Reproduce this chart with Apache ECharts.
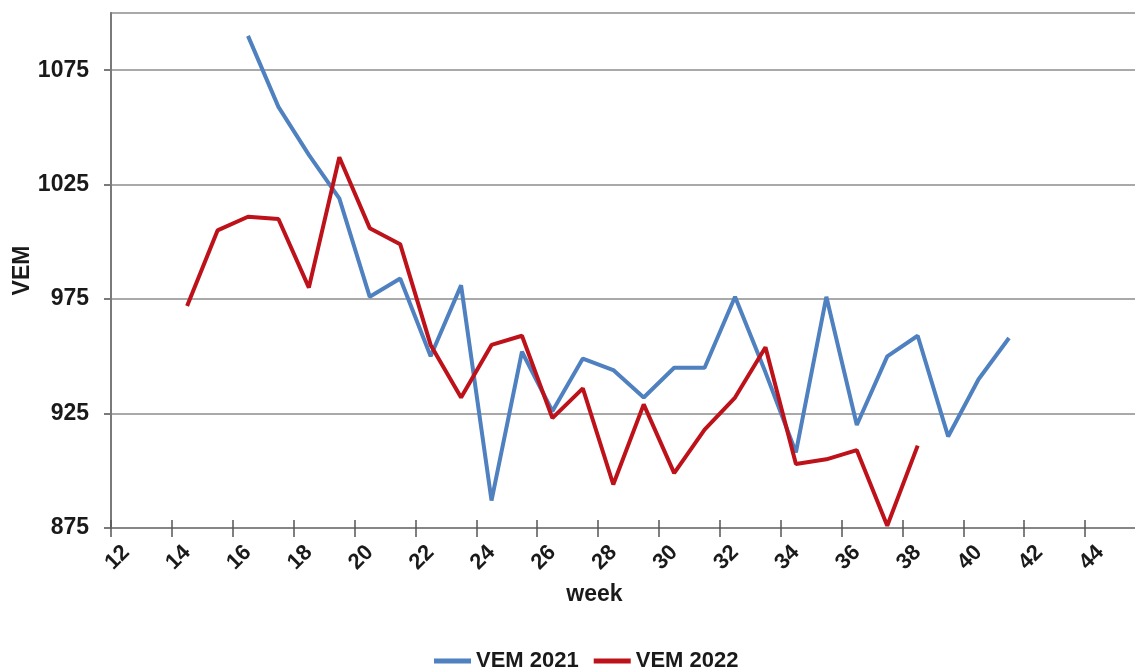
<!DOCTYPE html>
<html>
<head>
<meta charset="utf-8">
<script src="https://cdn.jsdelivr.net/npm/echarts@6/dist/echarts.min.js"></script>
<style>
  html, body { margin: 0; padding: 0; background: #fff; }
  #chart { width: 1135px; height: 668px; }
</style>
</head>
<body>
<div id="chart"></div>
<script>
// weeks on the category axis (labels shown every other week)
const weeks = [12, 13, 14, 15, 16, 17, 18, 19, 20, 21, 22, 23, 24, 25, 26, 27, 28,
  29, 30, 31, 32, 33, 34, 35, 36, 37, 38, 39, 40, 41, 42, 43, 44, 45]

// VEM 2021, weeks 12..45
const vem2021 = [null, null, null, null, 1090, 1059, 1038, 1019, 976, 984, 950, 981,
  887, 952, 926, 949, 944, 932, 945, 945, 976, 943, 908, 976, 920, 950, 959, 915,
  940, 958, null, null, null, null]

// VEM 2022, weeks 12..45
const vem2022 = [null, null, 972, 1005, 1011, 1010, 980, 1037, 1006, 999, 955, 932,
  955, 959, 923, 936, 894, 929, 899, 918, 932, 954, 903, 905, 909, 876, 911, null,
  null, null, null, null, null, null]

const yTicks = [875, 925, 975, 1025, 1075]

const font = 'Liberation Sans, Arial, sans-serif'
const chart = echarts.init(document.getElementById('chart'))

chart.setOption({
  animation: false,
  textStyle: { fontFamily: font },
  grid: {
    left: 111, right: -11, top: 13, bottom: 140,
    containLabel: false,
    outerBoundsMode: 'none',
    show: true, borderColor: '#a9a9a9', borderWidth: 2
  },
  legend: {
    left: 429,
    top: 645,
    icon: 'rect',
    itemWidth: 37,
    itemHeight: 5,
    itemGap: 15,
    textStyle: { fontSize: 22, fontWeight: 'bold', color: '#1a1a1a', fontFamily: font },
    data: ['VEM 2021', 'VEM 2022']
  },
  xAxis: [
    {
      type: 'category',
      data: weeks,
      boundaryGap: true,
      name: 'week',
      nameLocation: 'middle',
      nameGap: 55,
      nameMoveOverlap: false,
      nameTextStyle: {
        fontSize: 23, fontWeight: 'bold', color: '#1a1a1a',
        verticalAlign: 'top', padding: [0, 68, 0, 0]
      },
      axisLine: { lineStyle: { color: '#868686', width: 2 } },
      axisTick: { show: true, interval: 1, length: 9, lineStyle: { color: '#555', width: 1.5 } },
      axisLabel: {
        interval: 1,
        rotate: 45,
        margin: 21,
        fontSize: 22,
        fontWeight: 'bold',
        color: '#1a1a1a'
      },
      splitLine: { show: false }
    },
    {
      type: 'category',
      data: weeks,
      boundaryGap: true,
      position: 'bottom',
      axisLine: { show: false },
      axisTick: { show: true, inside: true, interval: 1, length: 8, lineStyle: { color: '#555', width: 1.5 } },
      axisLabel: { show: false },
      splitLine: { show: false }
    }
  ],
  yAxis: {
    type: 'value',
    min: 875,
    max: 1100,
    interval: 50,
    name: 'VEM',
    nameLocation: 'middle',
    nameGap: 77,
    nameMoveOverlap: false,
    nameTextStyle: { fontSize: 23, fontWeight: 'bold', color: '#1a1a1a' },
    axisLine: { show: true, lineStyle: { color: '#7a7a7a', width: 2 } },
    axisTick: { show: true, length: 7, customValues: yTicks, lineStyle: { color: '#7a7a7a', width: 2 } },
    axisLabel: {
      formatter: v => (yTicks.includes(v) ? String(v) : ''),
      margin: 22,
      fontSize: 23,
      fontWeight: 'bold',
      color: '#1a1a1a'
    },
    splitLine: { show: true, lineStyle: { color: '#a9a9a9', width: 2 } }
  },
  series: [
    {
      name: 'VEM 2021',
      type: 'line',
      data: vem2021,
      showSymbol: false,
      connectNulls: false,
      itemStyle: { color: '#4f80c0' },
      lineStyle: { color: '#4f80c0', width: 4 }
    },
    {
      name: 'VEM 2022',
      type: 'line',
      data: vem2022,
      showSymbol: false,
      connectNulls: false,
      itemStyle: { color: '#bd121a' },
      lineStyle: { color: '#bd121a', width: 4 }
    }
  ]
})
</script>
</body>
</html>
